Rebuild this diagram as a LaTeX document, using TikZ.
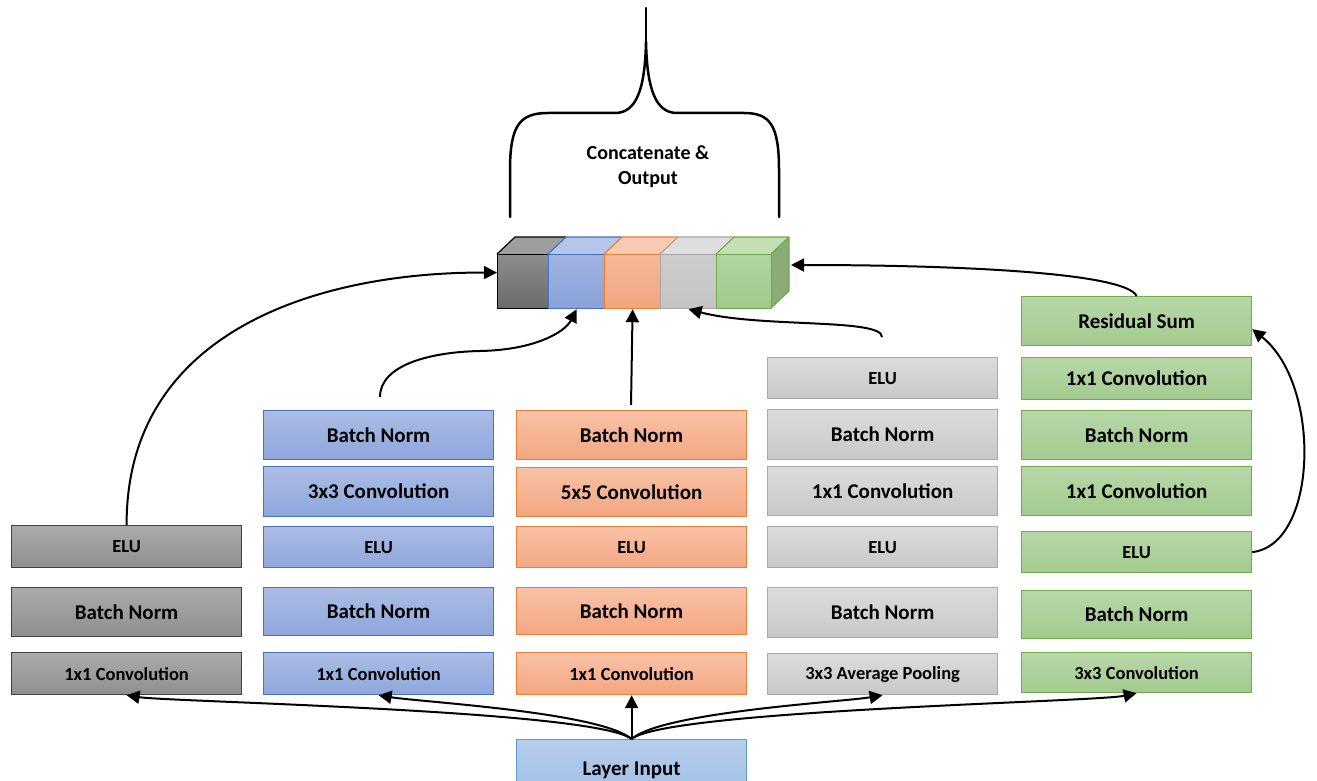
\documentclass[tikz,border=0pt]{standalone}
\usepackage{fontspec}
\setmainfont{Carlito}
\usetikzlibrary{arrows.meta}
\newcommand{\bigtxt}{\fontsize{21}{24}\selectfont\bfseries}
\newcommand{\smltxt}{\fontsize{18.5}{22}\selectfont\bfseries}
\definecolor{blueln}{RGB}{68,114,196}
\definecolor{bluetop}{RGB}{171,189,230}
\definecolor{bluebot}{RGB}{142,166,219}
\definecolor{orln}{RGB}{237,125,49}
\definecolor{ortop}{RGB}{248,194,166}
\definecolor{orbot}{RGB}{244,166,130}
\definecolor{lgln}{RGB}{170,170,170}
\definecolor{lgtop}{RGB}{220,220,220}
\definecolor{lgbot}{RGB}{200,200,200}
\definecolor{grln}{RGB}{112,173,71}
\definecolor{grtop}{RGB}{183,215,168}
\definecolor{grbot}{RGB}{162,203,142}
\definecolor{inln}{RGB}{91,155,213}
\definecolor{intop}{RGB}{182,205,236}
\definecolor{inbot}{RGB}{157,190,230}
\definecolor{bluecubetop}{RGB}{183,197,232}
\definecolor{bluecubeA}{RGB}{160,178,225}
\definecolor{bluecubeB}{RGB}{138,162,216}
\definecolor{orcubetop}{RGB}{249,203,180}
\definecolor{orcubeA}{RGB}{246,184,154}
\definecolor{orcubeB}{RGB}{243,164,128}
\definecolor{grcubetop}{RGB}{196,223,182}
\definecolor{grcubeside}{RGB}{138,170,118}
\definecolor{grcubeA}{RGB}{176,212,158}
\definecolor{grcubeB}{RGB}{160,202,138}
\tikzset{
  layer/.style={anchor=north west, minimum width=230pt, inner sep=0pt, line width=1.2pt, text=black},
  dk/.style={layer, draw=black!75, top color=black!33, bottom color=black!44},
  bl/.style={layer, draw=blueln, top color=bluetop, bottom color=bluebot},
  og/.style={layer, draw=orln, top color=ortop, bottom color=orbot},
  lg/.style={layer, draw=lgln, top color=lgtop, bottom color=lgbot},
  gr/.style={layer, draw=grln, top color=grtop, bottom color=grbot},
  inp/.style={layer, draw=inln, top color=intop, bottom color=inbot},
  cubefront/.style={anchor=north west, minimum height=54pt, inner sep=0pt, line width=1.2pt},
  flow/.style={line width=2pt, -{Triangle[length=13pt,width=13pt]}},
  brace/.style={line width=2.5pt, line join=round, line cap=round}
}
\begin{document}
\begin{tikzpicture}[x=1pt,y=-1pt]
\useasboundingbox (0,0) rectangle (1317,781);
\clip (0,0) rectangle (1317,781);
\fill[white] (0,0) rectangle (1317,781);

% column 1
\node[dk, minimum height=42pt] (c1e) at (11,525) {\smltxt ELU};
\node[dk, minimum height=49pt] (c1b) at (11,587) {\bigtxt Batch Norm};
\node[dk, minimum height=42pt] (c1c) at (11,652) {\smltxt 1x1 Convolution};
% column 2
\node[bl, minimum height=49pt] (c2b2) at (263,410) {\bigtxt Batch Norm};
\node[bl, minimum height=50pt] (c2c3) at (263,466) {\bigtxt 3x3 Convolution};
\node[bl, minimum height=41pt] (c2e) at (263,526) {\smltxt ELU};
\node[bl, minimum height=48pt] (c2b1) at (263,587) {\bigtxt Batch Norm};
\node[bl, minimum height=42pt] (c2c1) at (263,652) {\smltxt 1x1 Convolution};
% column 3
\node[og, minimum height=49pt] (c3b2) at (516,410) {\bigtxt Batch Norm};
\node[og, minimum height=49pt] (c3c5) at (516,467) {\bigtxt 5x5 Convolution};
\node[og, minimum height=41pt] (c3e) at (516,526) {\smltxt ELU};
\node[og, minimum height=47pt] (c3b1) at (516,587) {\bigtxt Batch Norm};
\node[og, minimum height=42pt] (c3c1) at (516,652) {\smltxt 1x1 Convolution};
% column 4
\node[lg, minimum height=41pt] (c4e2) at (767,357) {\smltxt ELU};
\node[lg, minimum height=50pt] (c4b2) at (767,409) {\bigtxt Batch Norm};
\node[lg, minimum height=49pt] (c4c1) at (767,466) {\bigtxt 1x1 Convolution};
\node[lg, minimum height=41pt] (c4e1) at (767,526) {\smltxt ELU};
\node[lg, minimum height=50pt] (c4b1) at (767,587) {\bigtxt Batch Norm};
\node[lg, minimum height=41pt] (c4p) at (767,653) {\smltxt 3x3 Average Pooling};
% column 5
\node[gr, minimum height=49pt] (c5r) at (1021,296) {\bigtxt Residual Sum};
\node[gr, minimum height=42pt] (c5c1b) at (1021,357) {\bigtxt 1x1 Convolution};
\node[gr, minimum height=49pt] (c5b2) at (1021,410) {\bigtxt Batch Norm};
\node[gr, minimum height=49pt] (c5c1a) at (1021,466) {\bigtxt 1x1 Convolution};
\node[gr, minimum height=41pt] (c5e) at (1021,531) {\smltxt ELU};
\node[gr, minimum height=48pt] (c5b1) at (1021,590) {\bigtxt Batch Norm};
\node[gr, minimum height=40pt] (c5c3) at (1021,652) {\smltxt 3x3 Convolution};
% input
\node[inp, minimum height=62pt] (li) at (516,739) {\bigtxt Layer Input};

% cubes: top faces
\fill[black!38] (497,254) -- (515,237) -- (566,237) -- (548,254) -- cycle;
\draw[line width=1.2pt, black] (497,254) -- (515,237) -- (566,237);
\fill[bluecubetop] (548,254) -- (566,237) -- (622,237) -- (604,254) -- cycle;
\draw[line width=1.2pt, blueln] (548,254) -- (566,237) -- (622,237);
\fill[orcubetop] (604,254) -- (622,237) -- (678,237) -- (660,254) -- cycle;
\draw[line width=1.2pt, orln] (604,254) -- (622,237) -- (678,237);
\fill[black!13] (660,254) -- (678,237) -- (734,237) -- (716,254) -- cycle;
\draw[line width=1.2pt, black!35] (660,254) -- (678,237) -- (734,237);
\fill[grcubetop] (716,254) -- (734,237) -- (789,237) -- (771,254) -- cycle;
\fill[grcubeside] (771,254) -- (789,237) -- (789,291) -- (771,308) -- cycle;
\draw[line width=1.2pt, grln, line join=round] (716,254) -- (734,237) -- (789,237) -- (789,291) -- (771,308) (771,254) -- (789,237);
% cubes: front faces
\node[cubefront, minimum width=51pt, draw=black, top color=black!45, bottom color=black!58] (k1) at (497,254) {};
\node[cubefront, minimum width=56pt, draw=blueln, top color=bluecubeA, bottom color=bluecubeB] (k2) at (548,254) {};
\node[cubefront, minimum width=56pt, draw=orln, top color=orcubeA, bottom color=orcubeB] (k3) at (604,254) {};
\node[cubefront, minimum width=56pt, draw=black!35, top color=black!20, bottom color=black!23] (k4) at (660,254) {};
\node[cubefront, minimum width=55pt, draw=grln, top color=grcubeA, bottom color=grcubeB] (k5) at (716,254) {};
\coordinate (k5r) at (791,265);

% brace
\draw[brace] (510,217) -- (510,170) .. controls (510,125) and (520,113) .. (548,113) -- (615,113) .. controls (636,113) and (645,90) .. (646,42) .. controls (647,90) and (656,113) .. (677,113) -- (744,113) .. controls (770,113) and (779,125) .. (779,170) -- (779,217);
\draw[brace] (646,42) -- (646,8);
\node[align=center, inner sep=0pt, font=\fontsize{20}{25}\selectfont\bfseries] (cat) at (648,167) {Concatenate \&\\Output};

% input fan
\draw[flow] (li.north) .. controls (595,710) and (170,702) .. (c1c.south);
\draw[flow] (li.north) .. controls (600,712) and (420,702) .. (c2c1.south);
\draw[flow] (li.north) -- (c3c1.south);
\draw[flow] (li.north) .. controls (662,712) and (842,702) .. (c4p.south);
\draw[flow] (li.north) .. controls (667,710) and (1095,702) .. (c5c3.south);

% outputs to cubes
\coordinate (s2) at (380,397);
\coordinate (s3) at (631,405);
\coordinate (s4) at (882,337);
\draw[flow] (c1e.north) .. controls (126,330) and (320,272) .. ([yshift=9pt]k1.west);
\draw[flow] (s2) .. controls (380,365) and (430,352) .. (480,351) .. controls (535,350) and (565,332) .. (k2.south);
\draw[flow] (s3) -- (k3.south);
\draw[flow] (s4) .. controls (882,318) and (760,328) .. (k4.south);
\draw[flow] (c5r.north) .. controls (1125,272) and (950,265) .. (k5r);
\draw[flow] (c5e.east) .. controls (1318,545) and (1322,385) .. ([yshift=-8pt]c5r.east);
\end{tikzpicture}
\end{document}
